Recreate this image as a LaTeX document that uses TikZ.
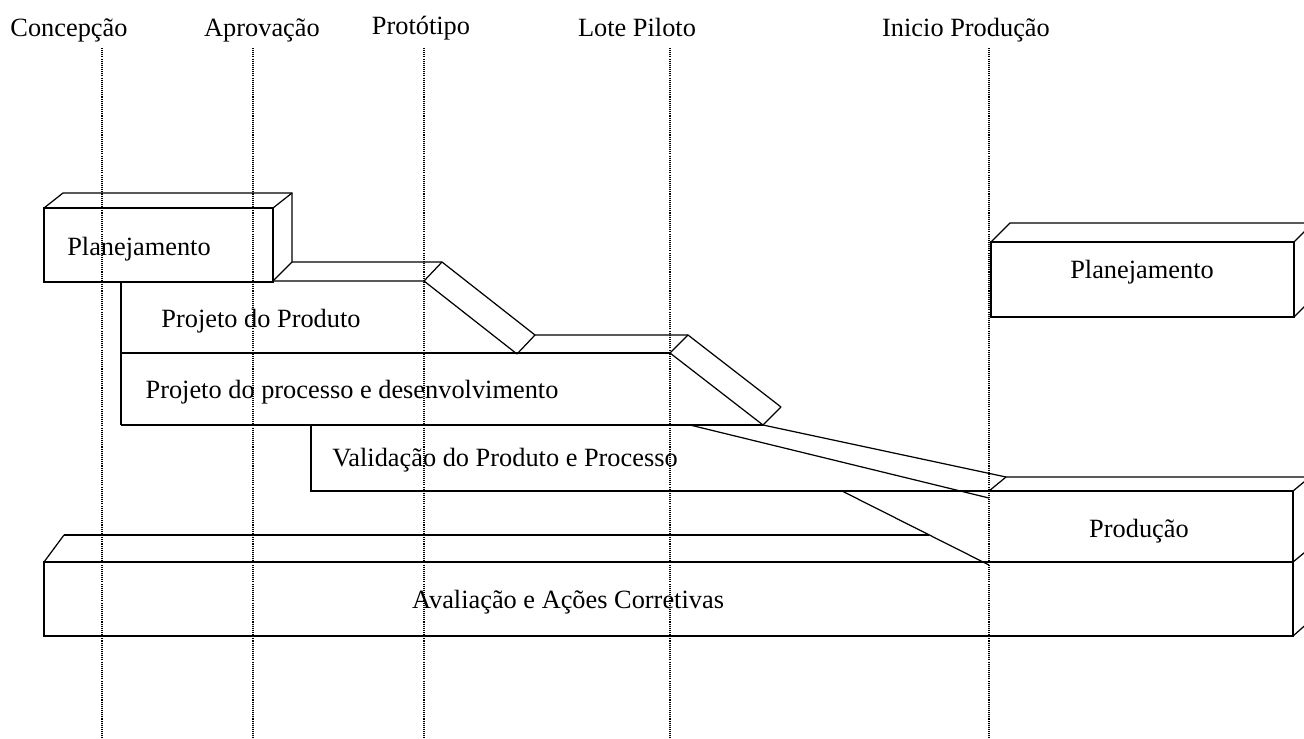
\documentclass[tikz,border=0pt]{standalone}
\usepackage{fontspec}
\setmainfont{Liberation Serif}
\usetikzlibrary{positioning,calc}

\begin{document}
\begin{tikzpicture}[
  x=0.02cm, y=-0.02cm,
  guide/.style={draw=black, line width=0.6pt, dash pattern=on 0.6pt off 0.6pt},
  edge/.style={draw=black, line width=0.7pt},
  front/.style={draw=black, line width=1.6pt},
  milestone/.style={anchor=base, inner sep=0pt, font=\fontsize{15}{18}\selectfont},
  phase/.style={anchor=base, inner sep=0pt, font=\fontsize{15}{18}\selectfont}
]
\useasboundingbox (0,0) rectangle (1304,738);
\clip (0,0) rectangle (1304,738);
% milestones and their guide lines
\foreach \lx/\ly/\gx/\nm/\txt in {69/36/102/conc/Concepção, 262/36/253/aprov/Aprovação, 421/34/424/proto/Protótipo, 637/36/670/lote/Lote Piloto, 966/36/989/inicio/Inicio Produção}{
  \node[milestone] (\nm) at (\lx,\ly) {\txt};
  \coordinate (\nm-top) at (\gx,48);
  \coordinate (\nm-bot) at (\gx,738);
  \draw[guide] (\nm-top) -- (\nm-bot);
}
% corner points of the staircase
\coordinate (s1-bl) at (273,281);
\coordinate (s1-tl) at (292,262);
\coordinate (s1-br) at (424,281);
\coordinate (s1-tr) at (442,262);
\coordinate (d1-b) at (517,354);
\coordinate (d1-t) at (535,335);
\coordinate (s2-br) at (670,353);
\coordinate (s2-tr) at (688,335);
\coordinate (d2-b) at (763,425);
\coordinate (d2-t) at (781,407);
% Planejamento (left)
\draw[edge] (44,208) -- (63,193) -- (292,193) -- (s1-tl);
\draw[edge] (273,208) -- (292,193);
\draw[edge] (s1-bl) -- (s1-tl);
\draw[front] (44,208) rectangle (273,282);
% staircase top
\draw[edge] (s1-tl) -- (s1-tr) -- (d1-t) -- (s2-tr) -- (d2-t);
\draw[edge] (s1-bl) -- (s1-br) -- (d1-b);
\draw[edge] (s1-br) -- (s1-tr);
\draw[edge] (d1-b) -- (d1-t);
\draw[edge] (s2-br) -- (s2-tr);
\draw[edge] (s2-br) -- (d2-b) -- (d2-t);
% Projeto do Produto / Projeto do processo
\draw[edge] (121,282) -- (121,425);
\draw[edge] (121,353) -- (s2-br);
\draw[edge] (121,425) -- (d2-b);
% strip down to Produção
\draw[edge] (d2-b) -- (1006,477);
\draw[edge] (690,425) -- (989,498);
% Validação
\draw[edge] (311,425) -- (311,491) -- (1293,491);
% Produção
\draw[edge] (989,491) -- (1006,477) -- (1310,477);
\draw[edge] (1293,491) -- (1310,477);
\draw[edge] (1293,491) -- (1293,562);
\draw[edge] (1293,562) -- (1310,548);
\draw[edge] (842,491) -- (989,565);
% Avaliação
\draw[edge] (44,562) -- (64,535);
\draw[front] (64,535) -- (929,535);
\draw[front] (44,562) rectangle (1293,636);
\draw[edge] (1293,636) -- (1310,621);
% Planejamento (right)
\draw[edge] (991,242) -- (1010,223) -- (1310,223);
\draw[edge] (1294,242) -- (1313,223);
\draw[edge] (1294,317) -- (1313,298);
\draw[front] (991,242) rectangle (1294,317);
% texts
\node[phase] (planL) at (139,255) {Planejamento};
\node[phase] (planR) at (1142,278) {Planejamento};
\node[phase] (prodProj) at (261,327) {Projeto do Produto};
\node[phase] (procProj) at (352,398) {Projeto do processo e desenvolvimento};
\node[phase] (valid) at (505,466) {Validação do Produto e Processo};
\node[phase] (producao) at (1139,537) {Produção};
\node[phase] (aval) at (568,608) {Avaliação e Ações Corretivas};
\end{tikzpicture}
\end{document}
